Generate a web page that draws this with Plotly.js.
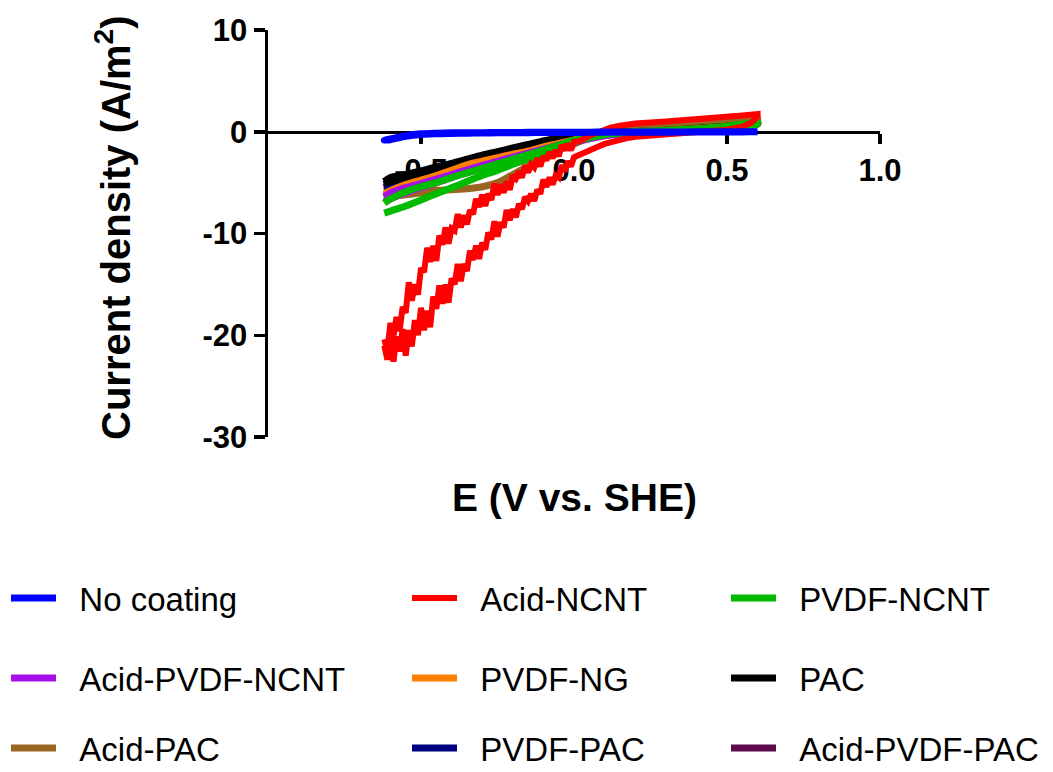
<!DOCTYPE html>
<html>
<head>
<meta charset="utf-8">
<script src="https://cdn.plot.ly/plotly-3.0.1.min.js"></script>
<style>
html,body{margin:0;padding:0;background:#fff;}
#chart{width:1053px;height:772px;}
</style>
</head>
<body>
<div id="chart"></div>
<script>
// Potential grid (V vs. SHE) for the smooth CV loops
const ePts = [-0.62, -0.6, -0.55, -0.5, -0.45, -0.4, -0.35, -0.3, -0.25, -0.2, -0.15, -0.1, -0.05, 0, 0.05, 0.1, 0.15, 0.2, 0.3, 0.4, 0.5, 0.55, 0.6];

// Current density (A/m2), forward and reverse branches on ePts
const noCoatingFwd = [-0.85, -0.7, -0.38, -0.2, -0.14, -0.11, -0.1, -0.09, -0.08, -0.07, -0.06, -0.05, -0.05, -0.04, -0.04, -0.03, -0.03, -0.02, -0.02, -0.01, -0.01, 0.0, 0.0];
const noCoatingRev = [-0.85, -0.78, -0.45, -0.26, -0.19, -0.16, -0.14, -0.12, -0.11, -0.1, -0.09, -0.08, -0.07, -0.07, -0.06, -0.05, -0.05, -0.04, -0.04, -0.03, -0.03, -0.02, 0.0];

const pvdfNcntFwd = [-7.0, -6.6, -5.9, -5.4, -5.0, -4.5, -4.05, -3.6, -3.15, -2.7, -2.25, -1.8, -1.3, -0.85, -0.5, -0.25, -0.1, 0.0, 0.15, 0.3, 0.55, 0.75, 0.9];
const pvdfNcntRev = [-8.0, -7.8, -7.3, -6.7, -6.1, -5.5, -4.9, -4.3, -3.8, -3.2, -2.7, -2.2, -1.6, -1.0, -0.6, -0.3, -0.15, -0.05, 0.05, 0.15, 0.3, 0.45, 0.75];

const acidPvdfNcntFwd = [-6.4, -6.0, -5.5, -5.1, -4.65, -4.2, -3.75, -3.3, -2.9, -2.5, -2.1, -1.7, -1.3, -0.9, -0.55, -0.3, -0.12, -0.03, 0.1, 0.25, 0.45, 0.6, 0.8];
const acidPvdfNcntRev = [-6.9, -6.6, -6.0, -5.5, -5.0, -4.5, -4.05, -3.6, -3.15, -2.7, -2.3, -1.9, -1.5, -1.05, -0.7, -0.4, -0.22, -0.1, 0.05, 0.2, 0.38, 0.52, 0.75];

const pvdfNgFwd = [-6.1, -5.8, -5.2, -4.75, -4.3, -3.8, -3.25, -2.9, -2.55, -2.2, -1.9, -1.5, -1.15, -0.8, -0.5, -0.25, -0.1, 0.0, 0.12, 0.28, 0.5, 0.65, 0.9];
const pvdfNgRev = [-7.0, -6.6, -6.0, -5.5, -5.0, -4.5, -4.0, -3.5, -3.05, -2.6, -2.15, -1.7, -1.3, -0.95, -0.6, -0.35, -0.2, -0.1, 0.05, 0.2, 0.4, 0.55, 0.85];

const pacFwd = [-4.9, -4.5, -4.2, -3.85, -3.45, -3.1, -2.7, -2.3, -1.95, -1.6, -1.25, -0.9, -0.6, -0.35, -0.2, -0.1, -0.03, 0.02, 0.15, 0.32, 0.55, 0.7, 0.85];
const pacRev = [-5.1, -4.9, -4.6, -4.3, -3.95, -3.6, -3.2, -2.8, -2.4, -2.0, -1.65, -1.3, -1.0, -0.7, -0.45, -0.3, -0.18, -0.1, 0.05, 0.18, 0.35, 0.5, 0.75];

const acidPacFwd = [-6.2, -5.9, -5.3, -4.8, -4.35, -3.95, -3.5, -3.1, -2.7, -2.3, -1.9, -1.5, -1.1, -0.75, -0.4, 0.0, 0.35, 0.55, 0.8, 1.0, 1.1, 1.2, 1.3];
const acidPacRev = [-6.6, -6.4, -6.2, -6.0, -5.75, -5.7, -5.6, -5.4, -5.0, -4.2, -3.4, -2.6, -1.8, -1.2, -0.6, -0.3, -0.12, 0.0, 0.2, 0.4, 0.6, 0.8, 1.2];

const pvdfPacFwd = [-5.2, -4.9, -4.5, -4.15, -3.8, -3.4, -3.0, -2.6, -2.2, -1.85, -1.5, -1.15, -0.85, -0.55, -0.35, -0.2, -0.1, 0.0, 0.2, 0.4, 0.65, 0.8, 1.0];
const pvdfPacRev = [-5.4, -5.2, -4.8, -4.45, -4.1, -3.7, -3.3, -2.9, -2.5, -2.1, -1.75, -1.4, -1.05, -0.75, -0.5, -0.3, -0.2, -0.1, 0.05, 0.25, 0.45, 0.6, 0.95];

const acidPvdfPacFwd = [-5.5, -5.2, -4.85, -4.5, -4.1, -3.75, -3.35, -2.95, -2.55, -2.15, -1.75, -1.35, -1.0, -0.65, -0.4, -0.2, -0.08, 0.0, 0.12, 0.28, 0.5, 0.65, 0.85];
const acidPvdfPacRev = [-5.8, -5.6, -5.25, -4.9, -4.5, -4.1, -3.7, -3.3, -2.9, -2.45, -2.05, -1.65, -1.25, -0.9, -0.6, -0.35, -0.2, -0.1, 0.05, 0.18, 0.38, 0.55, 0.8];

// Acid-NCNT: noisy loop, forward branch (E ascending) and reverse branch (E descending)
const acidNcntFwdE = [-0.62, -0.61, -0.6, -0.59, -0.58, -0.57, -0.56, -0.55, -0.54, -0.53, -0.52, -0.51, -0.5, -0.49, -0.48, -0.47, -0.46, -0.45, -0.44, -0.43, -0.42, -0.41, -0.4, -0.39, -0.38, -0.37, -0.36, -0.35, -0.34, -0.33, -0.32, -0.31, -0.3, -0.29, -0.28, -0.27, -0.26, -0.25, -0.24, -0.23, -0.22, -0.21, -0.2, -0.19, -0.18, -0.17, -0.16, -0.15, -0.14, -0.13, -0.12, -0.11, -0.1, -0.09, -0.08, -0.07, -0.06, -0.05, -0.04, -0.03, -0.02, -0.01, 0.0, 0.02, 0.05, 0.08, 0.1, 0.12, 0.15, 0.2, 0.3, 0.4, 0.5, 0.55, 0.6];
const acidNcntFwdJ = [-20.4, -21.5, -18.8, -20.1, -18.2, -19.6, -17.2, -17.8, -14.8, -16.6, -15.0, -16.0, -13.4, -13.8, -11.4, -12.8, -11.2, -12.7, -10.2, -11.1, -9.4, -11.0, -9.5, -9.7, -8.1, -9.4, -8.2, -9.1, -7.7, -8.1, -6.6, -7.4, -6.2, -7.3, -6.1, -6.7, -5.1, -6.2, -5.2, -6.0, -4.9, -5.7, -4.3, -4.6, -3.9, -4.5, -3.3, -4.0, -3.2, -3.5, -2.6, -3.4, -2.4, -2.8, -2.0, -2.6, -1.8, -2.4, -1.3, -1.8, -1.2, -1.8, -1.0, -0.9, -0.4, -0.05, 0.2, 0.4, 0.6, 0.8, 1.0, 1.2, 1.45, 1.6, 1.75];
const acidNcntRevE = [0.6, 0.58, 0.55, 0.5, 0.4, 0.3, 0.2, 0.17, 0.14, 0.12, 0.1, 0.08, 0.06, 0.04, 0.02, 0.0, -0.01, -0.02, -0.03, -0.04, -0.05, -0.06, -0.07, -0.08, -0.09, -0.1, -0.11, -0.12, -0.13, -0.14, -0.15, -0.16, -0.17, -0.18, -0.19, -0.2, -0.21, -0.22, -0.23, -0.24, -0.25, -0.26, -0.27, -0.28, -0.29, -0.3, -0.31, -0.32, -0.33, -0.34, -0.35, -0.36, -0.37, -0.38, -0.39, -0.4, -0.41, -0.42, -0.43, -0.44, -0.45, -0.46, -0.47, -0.48, -0.49, -0.5, -0.51, -0.52, -0.53, -0.54, -0.55, -0.56, -0.57, -0.58, -0.59, -0.6, -0.61, -0.62];
const acidNcntRevJ = [1.5, 0.9, 0.5, 0.2, 0.0, -0.2, -0.5, -0.65, -0.85, -1.0, -1.2, -1.45, -1.7, -2.0, -2.35, -2.5, -3.4, -2.9, -3.9, -3.3, -4.5, -4.3, -5.2, -4.5, -5.4, -4.7, -6.1, -5.7, -6.8, -6.1, -6.8, -6.4, -7.6, -7.1, -8.4, -7.6, -8.7, -7.7, -9.4, -8.9, -10.3, -8.8, -10.6, -9.9, -11.6, -10.9, -12.5, -11.2, -12.6, -11.7, -13.7, -13.0, -14.7, -13.0, -15.0, -14.4, -16.8, -15.0, -16.9, -15.1, -17.4, -16.2, -19.2, -17.6, -19.5, -17.3, -20.0, -18.5, -21.1, -19.5, -22.0, -19.4, -21.6, -20.1, -22.6, -20.0, -22.4, -21.0];

// Axis ticks
const xTickVals = [-0.5, 0, 0.5, 1.0];
const xTickText = ['-0.5', '0.0', '0.5', '1.0'];
const yTickVals = [-30, -20, -10, 0, 10];
const yTickText = ['-30', '-20', '-10', '0', '10'];

const FONT = 'Liberation Sans, Arial, Helvetica, sans-serif';

function loop(e, fwd, rev) {
  return { x: e.concat(e.slice().reverse()), y: fwd.concat(rev.slice().reverse()) };
}

// drawn bottom to top; slot = position in the 3x3 legend grid (row-major)
const series = [
  { name: 'Acid-PVDF-PAC', color: '#5e0b4e', d: loop(ePts, acidPvdfPacFwd, acidPvdfPacRev), slot: 8, shape: 'spline', w: 7 },
  { name: 'PVDF-PAC', color: '#000080', d: loop(ePts, pvdfPacFwd, pvdfPacRev), slot: 7, shape: 'spline', w: 7 },
  { name: 'Acid-PAC', color: '#996622', d: loop(ePts, acidPacFwd, acidPacRev), slot: 6, shape: 'spline', w: 7 },
  { name: 'PAC', color: '#000000', d: loop(ePts, pacFwd, pacRev), slot: 5, shape: 'spline', w: 7 },
  { name: 'PVDF-NG', color: '#ff8000', d: loop(ePts, pvdfNgFwd, pvdfNgRev), slot: 4, shape: 'spline', w: 7 },
  { name: 'Acid-PVDF-NCNT', color: '#a60fe6', d: loop(ePts, acidPvdfNcntFwd, acidPvdfNcntRev), slot: 3, shape: 'spline', w: 7 },
  { name: 'PVDF-NCNT', color: '#00bb00', d: loop(ePts, pvdfNcntFwd, pvdfNcntRev), slot: 2, shape: 'spline', w: 7 },
  { name: 'Acid-NCNT', color: '#ff0000', d: { x: acidNcntFwdE.concat(acidNcntRevE), y: acidNcntFwdJ.concat(acidNcntRevJ) }, slot: 1, shape: 'linear', w: 6 },
  { name: 'No coating', color: '#0000ff', d: loop(ePts, noCoatingFwd, noCoatingRev), slot: 0, shape: 'spline', w: 7 }
];

// plot area in pixels
const L = 268, R = 880, T = 30, B = 437;
const pw = R - L, ph = B - T;
const colPx = [6, 407, 726];
const rowPx = [598, 678, 748];

const traces = series.map(s => ({
  type: 'scatter', mode: 'lines', name: '\u00a0\u00a0' + s.name,
  x: s.d.x, y: s.d.y,
  line: { color: s.color, width: s.w, shape: s.shape, smoothing: 0.8 },
  legend: s.slot === 0 ? 'legend' : 'legend' + (s.slot + 1),
  hoverinfo: 'skip'
}));

const layout = {
  width: 1053, height: 772,
  margin: { l: L, r: 1053 - R, t: T, b: 772 - B, pad: 0, autoexpand: false },
  paper_bgcolor: '#ffffff', plot_bgcolor: 'rgba(0,0,0,0)',
  font: { family: FONT, color: '#000000' },
  showlegend: true,
  xaxis: {
    range: [-1, 1], anchor: 'free', position: 0.75,
    tickmode: 'array', tickvals: xTickVals, ticktext: xTickText,
    showline: true, linecolor: '#000', linewidth: 3.5,
    ticks: 'outside', ticklen: 10, tickwidth: 3.5, tickcolor: '#000',
    tickfont: { family: FONT, size: 31, color: '#000', weight: 'bold' },
    showgrid: false, zeroline: false, layer: 'below traces', fixedrange: true, automargin: false
  },
  yaxis: {
    range: [-30, 10],
    tickmode: 'array', tickvals: yTickVals, ticktext: yTickText,
    showline: true, linecolor: '#000', linewidth: 3.5,
    ticks: 'outside', ticklen: 11, tickwidth: 3.5, tickcolor: '#000',
    tickfont: { family: FONT, size: 31, color: '#000', weight: 'bold' },
    showgrid: false, zeroline: false, layer: 'below traces', fixedrange: true, automargin: false
  },
  annotations: [
    { text: '<b>E (V vs. SHE)</b>', xref: 'paper', yref: 'paper',
      x: (574 - L) / pw, y: (B - 497) / ph, xanchor: 'center', yanchor: 'middle',
      showarrow: false, font: { family: FONT, size: 39, color: '#000' } },
    { text: '<b>Current density (A/m<sup>2</sup>)</b>', xref: 'paper', yref: 'paper',
      x: (113 - L) / pw, y: (B - 228) / ph, xanchor: 'center', yanchor: 'middle', textangle: -90,
      showarrow: false, font: { family: FONT, size: 40, color: '#000' } }
  ]
};

for (let i = 0; i < 9; i++) {
  const key = i === 0 ? 'legend' : 'legend' + (i + 1);
  const col = i % 3, row = Math.floor(i / 3);
  layout[key] = {
    x: (colPx[col] - L) / pw, y: (B - rowPx[row]) / ph,
    xanchor: 'left', yanchor: 'middle', orientation: 'v',
    bgcolor: 'rgba(0,0,0,0)', borderwidth: 0, itemwidth: 45,
    font: { family: FONT, size: 33, color: '#000' }
  };
}

Plotly.newPlot('chart', traces, layout, { staticPlot: true, displayModeBar: false });
</script>
</body>
</html>
